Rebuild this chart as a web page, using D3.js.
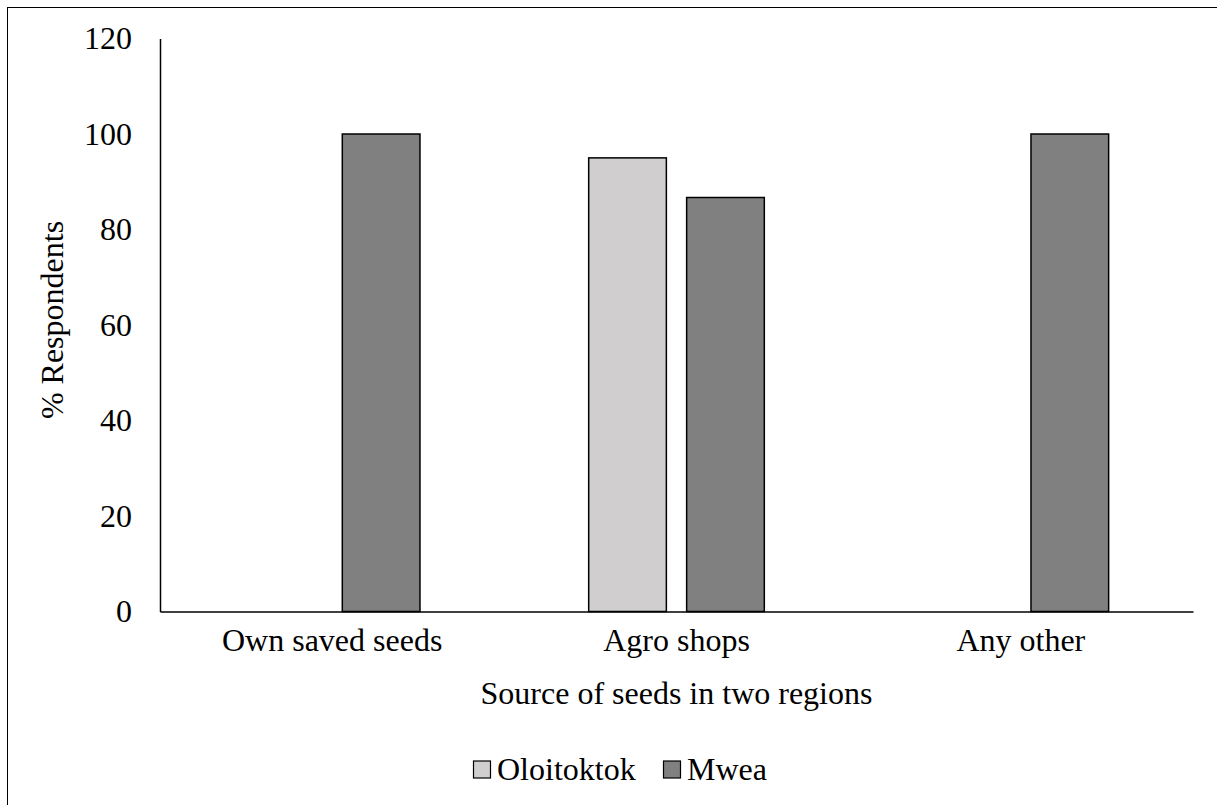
<!DOCTYPE html>
<html>
<head>
<meta charset="utf-8">
<script src="https://cdn.jsdelivr.net/npm/d3@7"></script>
<style>
  html, body { margin: 0; padding: 0; background: #fff; }
  svg { display: block; }
</style>
</head>
<body>
<svg id="chart" width="1217" height="805"></svg>
<script>
// Seed sources reported by respondents in the two regions
const categories = ["Own saved seeds", "Agro shops", "Any other"];
const seriesNames = ["Oloitoktok", "Mwea"];
const oloitoktok = [0, 95, 0];
const mwea = [100, 86.7, 100];
const yTicks = [0, 20, 40, 60, 80, 100, 120];
const seriesColors = ["#d0cece", "#808080"];

const seriesValues = [oloitoktok, mwea];
const rows = categories.map((c, i) => ({
  category: c,
  values: seriesNames.map((s, j) => ({ series: s, value: seriesValues[j][i], color: seriesColors[j] }))
}));

const FONT = '"Liberation Serif", "Times New Roman", serif';
const fontSize = 32;

const svg = d3.select("#chart");
const plot = { left: 160, right: 1193, top: 38.5, bottom: 611.5 };

// outer frame of the chart area
svg.append("rect")
  .attr("x", 7.5).attr("y", 7.5)
  .attr("width", 1230).attr("height", 820)
  .attr("fill", "none").attr("stroke", "#000").attr("stroke-width", 1);

const x0 = d3.scaleBand()
  .domain(categories)
  .range([plot.left, plot.right])
  .padding(0);

// the pair of bars occupies about half of each category slot
const groupWidth = x0.bandwidth() * 0.51;
const x1 = d3.scaleBand()
  .domain(seriesNames)
  .range([-groupWidth / 2, groupWidth / 2])
  .paddingInner(0.207)
  .paddingOuter(0);

const y = d3.scaleLinear()
  .domain([0, 120])
  .range([plot.bottom, plot.top]);

// bars
const groups = svg.append("g").selectAll("g")
  .data(rows)
  .join("g")
  .attr("transform", d => `translate(${x0(d.category) + x0.bandwidth() / 2},0)`);

groups.selectAll("rect")
  .data(d => d.values.filter(v => v.value > 0))
  .join("rect")
  .attr("x", d => x1(d.series))
  .attr("y", d => y(d.value))
  .attr("width", x1.bandwidth())
  .attr("height", d => y(0) - y(d.value))
  .attr("fill", d => d.color)
  .attr("stroke", "#000")
  .attr("stroke-width", 1.5);

// y axis
const yAxis = svg.append("g")
  .attr("transform", `translate(${plot.left},0)`)
  .call(d3.axisLeft(y).tickValues(yTicks).tickSize(0).tickPadding(28).tickFormat(d3.format("d")));
yAxis.attr("font-family", FONT).attr("font-size", fontSize);
yAxis.select(".domain").attr("stroke", "#000").attr("stroke-width", 1.5);
yAxis.selectAll("text").attr("fill", "#000");

// x axis
const xAxis = svg.append("g")
  .attr("transform", `translate(0,${plot.bottom})`)
  .call(d3.axisBottom(x0).tickSize(0).tickPadding(17));
xAxis.attr("font-family", FONT).attr("font-size", fontSize);
xAxis.select(".domain").attr("stroke", "#000").attr("stroke-width", 1.5);
xAxis.selectAll("text").attr("fill", "#000");

// axis titles
svg.append("text")
  .attr("x", (plot.left + plot.right) / 2)
  .attr("y", 704)
  .attr("text-anchor", "middle")
  .attr("font-family", FONT).attr("font-size", fontSize)
  .text("Source of seeds in two regions");

svg.append("text")
  .attr("transform", "translate(63,320) rotate(-90)")
  .attr("text-anchor", "middle")
  .attr("font-family", FONT).attr("font-size", fontSize)
  .text("% Respondents");

// legend
const legendItems = [
  { name: seriesNames[0], color: seriesColors[0], x: 473 },
  { name: seriesNames[1], color: seriesColors[1], x: 663 }
];
const legend = svg.append("g").selectAll("g")
  .data(legendItems)
  .join("g")
  .attr("transform", d => `translate(${d.x},0)`);
legend.append("rect")
  .attr("x", 0.5).attr("y", 761)
  .attr("width", 17).attr("height", 17)
  .attr("fill", d => d.color)
  .attr("stroke", "#000").attr("stroke-width", 1.2);
legend.append("text")
  .attr("x", 24).attr("y", 780)
  .attr("font-family", FONT).attr("font-size", fontSize)
  .text(d => d.name);
</script>
</body>
</html>
